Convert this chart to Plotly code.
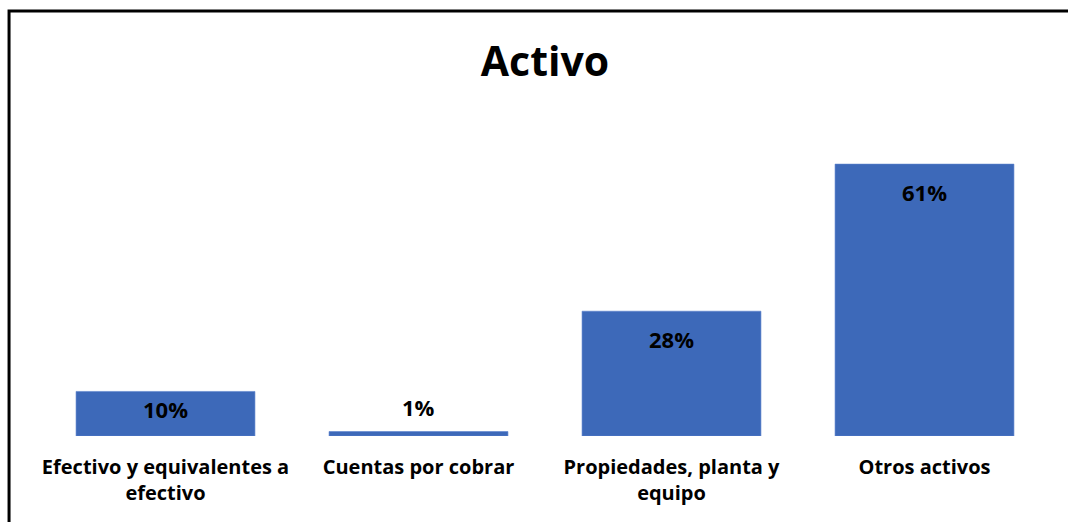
import plotly.graph_objects as go

# data
categorias = [
    "Efectivo y equivalentes a<br>efectivo",
    "Cuentas por cobrar",
    "Propiedades, planta y<br>equipo",
    "Otros activos",
]
porcentajes = [10, 1, 28, 61]
etiquetas = ["10%", "1%", "28%", "61%"]

fuente = "Open Sans"

fig = go.Figure(
    go.Bar(
        x=categorias,
        y=porcentajes,
        marker=dict(color="#3D69B9", line=dict(color="#5B82CC", width=0.6)),
        width=0.707,
        hoverinfo="x+y",
    )
)

# data labels: inside near the top for tall bars, above for tiny ones
for cat, val, txt in zip(categorias, porcentajes, etiquetas):
    if val >= 20:
        anchor, shift = "top", -11
    elif val >= 5:
        anchor, shift = "top", -1
    else:
        anchor, shift = "bottom", 8
    fig.add_annotation(
        x=cat, y=val, text="<b>%s</b>" % txt, showarrow=False,
        yanchor=anchor, yshift=shift,
        font=dict(family=fuente, size=22, color="#000000"),
    )

# chart frame (runs off the right and bottom of the picture like the source)
fig.add_shape(
    type="rect", xref="paper", yref="paper",
    x0=-0.0296, x1=1.5, y0=-0.8, y1=1.362,
    line=dict(color="#000000", width=3), fillcolor="rgba(0,0,0,0)",
)

fig.update_layout(
    width=1068, height=522,
    margin=dict(l=39, r=17, t=124, b=86),
    paper_bgcolor="#ffffff", plot_bgcolor="#ffffff",
    title=dict(
        text="<b>Activo</b>", xref="paper", x=0.5, xanchor="center",
        y=0.881, yanchor="middle",
        font=dict(family=fuente, size=41, color="#000000"),
    ),
    showlegend=False,
    bargap=0.293,
)
fig.update_xaxes(
    showline=False, showgrid=False, ticks="",
    tickfont=dict(family=fuente, size=20, color="#000000"),
    ticklabelstandoff=17,
    tickmode="array", tickvals=categorias,
    ticktext=["<b>%s</b>" % c for c in categorias],
)
fig.update_yaxes(visible=False, range=[0, 70], showgrid=False, zeroline=False)

# drop the default 8px page margin so the figure fills the window
fig.write_html(
    "out.html",
    config={"displayModeBar": False},
    post_script="document.body.style.margin='0px';",
)
